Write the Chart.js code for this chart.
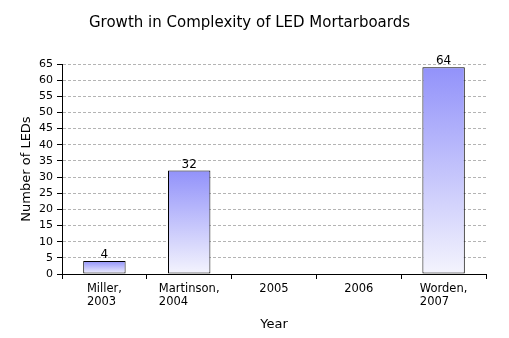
<!DOCTYPE html>
<html>
<head>
<meta charset="utf-8">
<script src="https://cdn.jsdelivr.net/npm/chart.js@4"></script>
<style>
  html, body { margin: 0; padding: 0; background: #fff; }
  #wrap { width: 509px; height: 338px; position: relative; }
</style>
</head>
<body>
<div id="wrap"><canvas id="c" width="509" height="338"></canvas></div>
<script>
const categories = [["Miller,", "2003"], ["Martinson,", "2004"], ["2005"], ["2006"], ["Worden,", "2007"]];
const ledCounts = [4, 32, null, null, 64];
const yTicks = { min: 0, max: 65, step: 5 };
const chartTitle = "Growth in Complexity of LED Mortarboards";
const xTitle = "Year";
const yTitle = "Number of LEDs";

const TOP_COLOR = "rgb(146,146,250)";
const BOTTOM_COLOR = "rgb(244,244,253)";
const FONT = "'DejaVu Sans', sans-serif";

const customLabels = {
  id: 'customLabels',
  afterDraw(chart) {
    const ctx = chart.ctx;
    const xs = chart.scales.x, ys = chart.scales.y;
    ctx.save();
    ctx.fillStyle = '#000';
    ctx.font = "11.5px " + FONT;
    ctx.textBaseline = 'middle';
    ctx.textAlign = 'left';
    categories.forEach((lines, i) => {
      const cx = xs.getPixelForValue(i);
      const w = Math.max(...lines.map(l => ctx.measureText(l).width));
      const left = cx - w / 2;
      lines.forEach((l, j) => {
        ctx.fillText(l, left, xs.top + 15 + j * 13.5);
      });
    });
    ctx.font = "12px " + FONT;
    ctx.textAlign = 'center';
    ctx.textBaseline = 'alphabetic';
    ledCounts.forEach((v, i) => {
      if (v == null) return;
      ctx.fillText(String(v), xs.getPixelForValue(i), ys.getPixelForValue(v) - 3);
    });
    ctx.restore();
  }
};

new Chart(document.getElementById('c'), {
  type: 'bar',
  data: {
    labels: categories,
    datasets: [{
      data: ledCounts,
      backgroundColor: (c) => {
        const chart = c.chart;
        const { ctx, chartArea, scales } = chart;
        if (!chartArea || c.raw == null) return TOP_COLOR;
        const y0 = scales.y.getPixelForValue(c.raw);
        const y1 = scales.y.getPixelForValue(0);
        const g = ctx.createLinearGradient(0, y0, 0, y1);
        g.addColorStop(0, TOP_COLOR);
        g.addColorStop(1, BOTTOM_COLOR);
        return g;
      },
      borderColor: '#000',
      borderWidth: 1,
      borderSkipped: false,
      barPercentage: 0.5,
      categoryPercentage: 1.0
    }]
  },
  options: {
    responsive: false,
    animation: false,
    events: [],
    layout: { padding: { left: 13, right: 23, top: 0, bottom: 0 } },
    plugins: {
      legend: { display: false },
      tooltip: { enabled: false },
      title: {
        display: true,
        text: chartTitle,
        color: '#000',
        font: { family: FONT, size: 15, weight: 'normal' },
        padding: { top: 14, bottom: 32 }
      }
    },
    scales: {
      x: {
        offset: true,
        grid: { display: true, drawOnChartArea: false, drawTicks: true, tickLength: 5, tickColor: '#000', offset: true },
        border: { display: true, color: '#000', width: 1 },
        ticks: { color: 'rgba(0,0,0,0)', font: { family: FONT, size: 11 }, maxRotation: 0, autoSkip: false },
        title: { display: true, text: xTitle, color: '#000', font: { family: FONT, size: 13 }, padding: { top: 4, bottom: 6 } },
        afterFit(scale) { scale.height = 64; }
      },
      y: {
        min: yTicks.min,
        max: yTicks.max,
        grid: { color: '#b4b4b4', lineWidth: 1, drawTicks: true, tickLength: 5, tickColor: '#000' },
        border: { display: true, color: '#000', width: 1, dash: [3, 2] },
        ticks: { stepSize: yTicks.step, autoSkip: false, color: '#000', padding: 4, font: { family: FONT, size: 11 } },
        title: { display: true, text: yTitle, color: '#000', font: { family: FONT, size: 13 }, padding: { top: 6, bottom: 4 } },
        afterFit(scale) { scale.width = 49; }
      }
    }
  },
  plugins: [customLabels]
});
</script>
</body>
</html>
